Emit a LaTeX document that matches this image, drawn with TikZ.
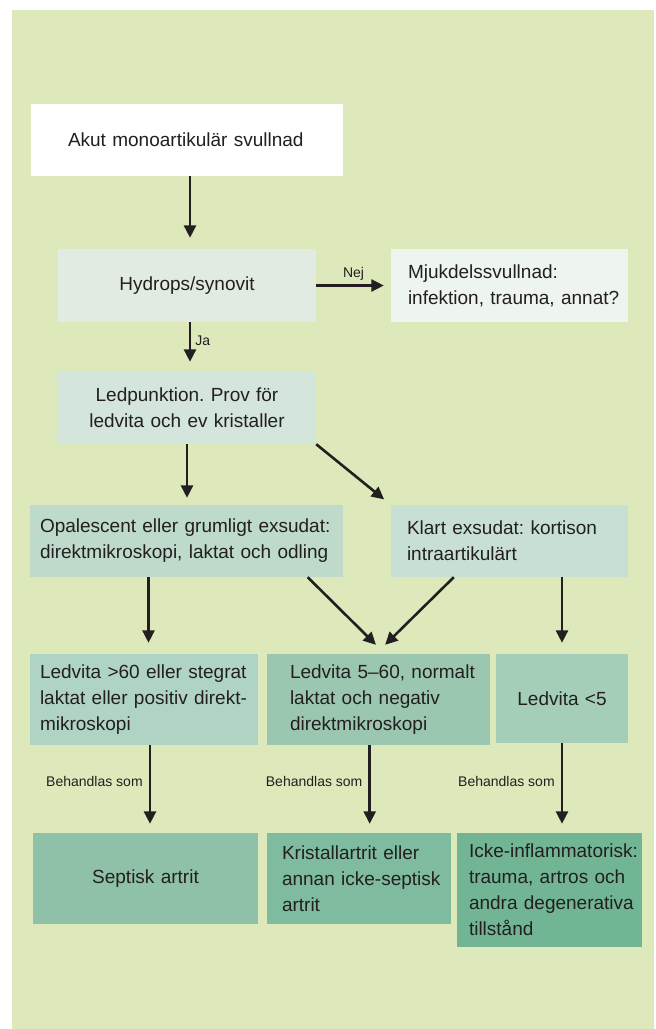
\documentclass[tikz,border=0pt]{standalone}
\usepackage{fontspec}
\setmainfont{Liberation Sans}
\usetikzlibrary{arrows.meta}
\definecolor{panel}{HTML}{DDE9BB}
\definecolor{txt}{HTML}{231F20}
\definecolor{chyd}{HTML}{E2EBE1}
\definecolor{cmjuk}{HTML}{EEF5EF}
\definecolor{cled}{HTML}{D4E5DB}
\definecolor{copal}{HTML}{BEDACB}
\definecolor{cklart}{HTML}{C8E0D4}
\definecolor{cl60}{HTML}{B0D4C3}
\definecolor{cmid}{HTML}{9BC7B1}
\definecolor{cl5}{HTML}{A4CEB8}
\definecolor{csept}{HTML}{8EC1A7}
\definecolor{ckris}{HTML}{7EBB9F}
\definecolor{cicke}{HTML}{71B595}
\frenchspacing
\begin{document}
\begin{tikzpicture}[x=1pt,y=-1pt,
  box/.style={rectangle, draw=none, inner ysep=0pt, font=\fontsize{19}{26}\selectfont, text=txt},
  arr/.style={draw=txt, line width=2.6pt, -{Triangle[length=12.5pt,width=12pt]}},
  lab/.style={font=\fontsize{14}{16}\selectfont, text=txt, inner sep=0pt}]
\useasboundingbox (0,0) rectangle (656,1029);
\fill[panel] (12,10) rectangle (654,1029);

\node[box, fill=white, minimum height=72pt, text width=238pt, inner xsep=37pt, align=left] (box1) at (187,140) {\mbox{Akut monoartikulär svullnad}};
\node[box, fill=chyd, minimum height=73pt, text width=238pt, inner xsep=10pt, align=center] (hyd) at (187,285.5) {Hydrops/synovit};
\node[box, fill=cmjuk, minimum height=73pt, text width=203pt, inner xsep=17pt, align=left] (mjuk) at (509.5,285.5) {\mbox{Mjukdelssvullnad:}\\\mbox{infektion, trauma, annat?}};
\node[box, fill=cled, minimum height=73pt, text width=238pt, inner xsep=10pt, align=center] (led) at (187,407.5) {Ledpunktion. Prov för\\ledvita och ev kristaller};
\node[box, fill=copal, minimum height=72pt, text width=293pt, inner xsep=10pt, align=left] (opal) at (186.5,541) {\mbox{Opalescent eller grumligt exsudat:}\\\mbox{direktmikroskopi, laktat och odling}};
\node[box, fill=cklart, minimum height=72pt, text width=205pt, inner xsep=16pt, align=left] (klart) at (509.5,541) {\mbox{Klart exsudat: kortison}\\\mbox{intraartikulärt}};
\node[box, fill=cl60, minimum height=91pt, text width=208pt, inner xsep=10pt, align=left] (l60) at (144,699.5) {\mbox{Ledvita >60 eller stegrat}\\\mbox{laktat eller positiv direkt-}\\\mbox{mikroskopi}};
\node[box, fill=cmid, minimum height=91pt, text width=177pt, inner xsep=23pt, align=left] (mid) at (378.5,699.5) {\mbox{Ledvita 5–60, normalt}\\\mbox{laktat och negativ}\\\mbox{direktmikroskopi}};
\node[box, fill=cl5, minimum height=89pt, text width=112pt, inner xsep=10pt, align=center] (l5) at (562,698.5) {Ledvita <5};
\node[box, fill=csept, minimum height=91pt, text width=205pt, inner xsep=10pt, align=center] (sept) at (145.5,878.5) {Septisk artrit};
\node[box, fill=ckris, minimum height=91pt, text width=154pt, inner xsep=15pt, align=left] (kris) at (359,878.5) {\mbox{Kristallartrit eller}\\\mbox{annan icke-septisk}\\\mbox{artrit}};
\node[box, fill=cicke, minimum height=114pt, text width=161pt, inner xsep=12pt, align=left] (icke) at (549.5,890) {\mbox{Icke-inflammatorisk:}\\\mbox{trauma, artros och}\\\mbox{andra degenerativa}\\\mbox{tillstånd}};

\draw[arr, shorten >=11pt] ([xshift=3pt]box1.south) -- ([xshift=3pt]box1.south |- hyd.north);
\draw[arr, shorten >=7pt] (hyd.east) -- (mjuk.west) node[lab, pos=0.5, yshift=11.5pt] (nej) {Nej};
\draw[arr, shorten >=9pt] ([xshift=3pt]hyd.south) -- ([xshift=3pt]hyd.south |- led.north) node[lab, pos=0.39, anchor=west, xshift=4pt] (ja) {Ja};
\draw[arr, shorten >=7pt] (led.south) -- (led.south |- opal.north);
\draw[arr, shorten >=8.6pt] (led.south east) -- (klart.north west);
\draw[arr, shorten >=11pt] ([xshift=4.5pt]l60.north |- opal.south) -- ([xshift=4.5pt]l60.north);
\draw[arr, shorten >=12.7pt] ([xshift=-35.5pt]opal.south east) -- ([xshift=6.5pt]mid.north);
\draw[arr, shorten >=12.8pt] ([xshift=63pt]klart.south west) -- ([xshift=-2.5pt]mid.north);
\draw[arr, shorten >=11pt] (l5.north |- klart.south) -- (l5.north);
\draw[arr, shorten >=9pt] ([xshift=4.5pt]sept.north |- l60.south) -- ([xshift=4.5pt]sept.north) node[lab, pos=0.417, anchor=east, xshift=-6pt] (b1) {Behandlas som};
\draw[arr, shorten >=9pt] ([xshift=10.7pt]kris.north |- mid.south) -- ([xshift=10.7pt]kris.north) node[lab, pos=0.417, anchor=east, xshift=-6pt] (b2) {Behandlas som};
\draw[arr, shorten >=9pt] (l5.south) -- (l5.south |- icke.north) node[lab, pos=0.43, anchor=east, xshift=-6pt] (b3) {Behandlas som};
\end{tikzpicture}
\end{document}
